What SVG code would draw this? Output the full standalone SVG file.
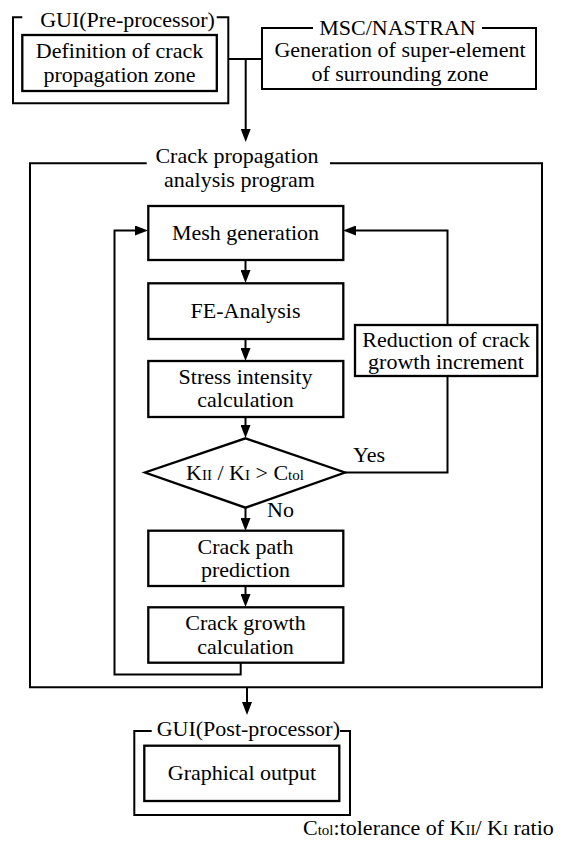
<svg xmlns="http://www.w3.org/2000/svg" width="566" height="845" viewBox="0 0 566 845" font-family="Liberation Serif, serif">
<style>
.ln{fill:none;stroke:#000;stroke-width:2;}
.bx{fill:#fff;stroke:#000;stroke-width:2.3;}
.ar{fill:none;stroke:#000;stroke-width:2;marker-end:url(#ah);}
text{font-family:"Liberation Serif","Times New Roman",serif;font-size:22px;fill:#000;}
.c{text-anchor:middle;}
.s{font-size:15px;}
</style>
<defs>
<marker id="ah" viewBox="0 0 13 10" refX="9" refY="5" markerWidth="13" markerHeight="10" orient="auto" markerUnits="userSpaceOnUse">
<path d="M0,0 L13,5 L0,10 z" fill="#000"/>
</marker>
</defs>
<rect width="566" height="845" fill="#fff"/>

<g id="connectors">
<path class="ln" d="M228.3,59 H262"/>
<path class="ar" d="M245.7,59 V138"/>
<path class="ar" d="M245.5,260 V279"/>
<path class="ar" d="M245.5,339 V357"/>
<path class="ar" d="M245.5,417 V434"/>
<path class="ar" d="M245.5,507.5 V527"/>
<path class="ar" d="M245.5,586 V603"/>
<path class="ar" d="M345,472.5 H447.5 V230.5 H347"/>
<path class="ar" d="M240.7,663 V674.5 H114.5 V230.5 H144"/>
<path class="ar" d="M247,687 V711"/>
<text x="353" y="462">Yes</text>
<text x="267" y="517">No</text>
</g>

<g id="gui-pre">
<path class="ln" d="M22.3,17.3 H13 V103.3 H228.3 V17.3 H216.7"/>
<text class="c" x="127.5" y="26.5">GUI(Pre-processor)</text>
</g>
<g id="definition">
<rect class="bx" x="22.3" y="35" width="194.5" height="56"/>
<text class="c" x="119.5" y="57.5">Definition of crack</text>
<text class="c" x="119.5" y="81.5">propagation zone</text>
</g>

<g id="msc-nastran">
<path class="ln" d="M313,28 H262 V89 H536 V28 H482"/>
<text class="c" x="397.5" y="34.5">MSC/NASTRAN</text>
<text class="c" x="400" y="57">Generation of super-element</text>
<text class="c" x="400" y="80.5">of surrounding zone</text>
</g>

<g id="crack-program">
<path class="ln" d="M146.7,163.3 H30 V687.3 H542 V163.3 H330"/>
<text class="c" x="237" y="163">Crack propagation</text>
<text class="c" x="239.5" y="186.5">analysis program</text>
</g>

<g id="mesh">
<rect class="bx" x="148.3" y="206" width="195" height="54"/>
<text class="c" x="245.5" y="240">Mesh generation</text>
</g>
<g id="fe">
<rect class="bx" x="148.3" y="283.3" width="195" height="55.7"/>
<text class="c" x="245.5" y="318">FE-Analysis</text>
</g>
<g id="stress">
<rect class="bx" x="148.3" y="361" width="195" height="56"/>
<text class="c" x="245.5" y="383.5">Stress intensity</text>
<text class="c" x="245.5" y="406.5">calculation</text>
</g>
<g id="decision">
<polygon class="bx" points="245.5,438.3 345,472.5 245.5,507.7 145,472.5"/>
<text class="c" x="245" y="480">K<tspan class="s">II</tspan> / K<tspan class="s">I</tspan> &gt; C<tspan class="s">tol</tspan></text>
</g>
<g id="reduction">
<rect class="bx" x="355" y="325" width="182.3" height="51"/>
<text class="c" x="446" y="346.5">Reduction of crack</text>
<text class="c" x="446" y="369">growth increment</text>
</g>
<g id="path-prediction">
<rect class="bx" x="148.3" y="530.7" width="195" height="55.3"/>
<text class="c" x="245.5" y="553.5">Crack path</text>
<text class="c" x="245.5" y="577">prediction</text>
</g>
<g id="growth">
<rect class="bx" x="148.3" y="607.3" width="195" height="55.4"/>
<text class="c" x="245.5" y="630">Crack growth</text>
<text class="c" x="245.5" y="653.5">calculation</text>
</g>

<g id="gui-post">
<path class="ln" d="M151.7,731 H134.3 V815 H350 V731 H340"/>
<text x="156.7" y="736">GUI(Post-processor)</text>
</g>
<g id="graphical">
<rect class="bx" x="144.3" y="745.7" width="195" height="55.3"/>
<text class="c" x="242" y="780">Graphical output</text>
</g>

<g id="footnote">
<text x="303" y="835" font-size="23">C<tspan class="s">tol</tspan>:tolerance of K<tspan class="s">II</tspan>/ K<tspan class="s">I</tspan> ratio</text>
</g>
</svg>
